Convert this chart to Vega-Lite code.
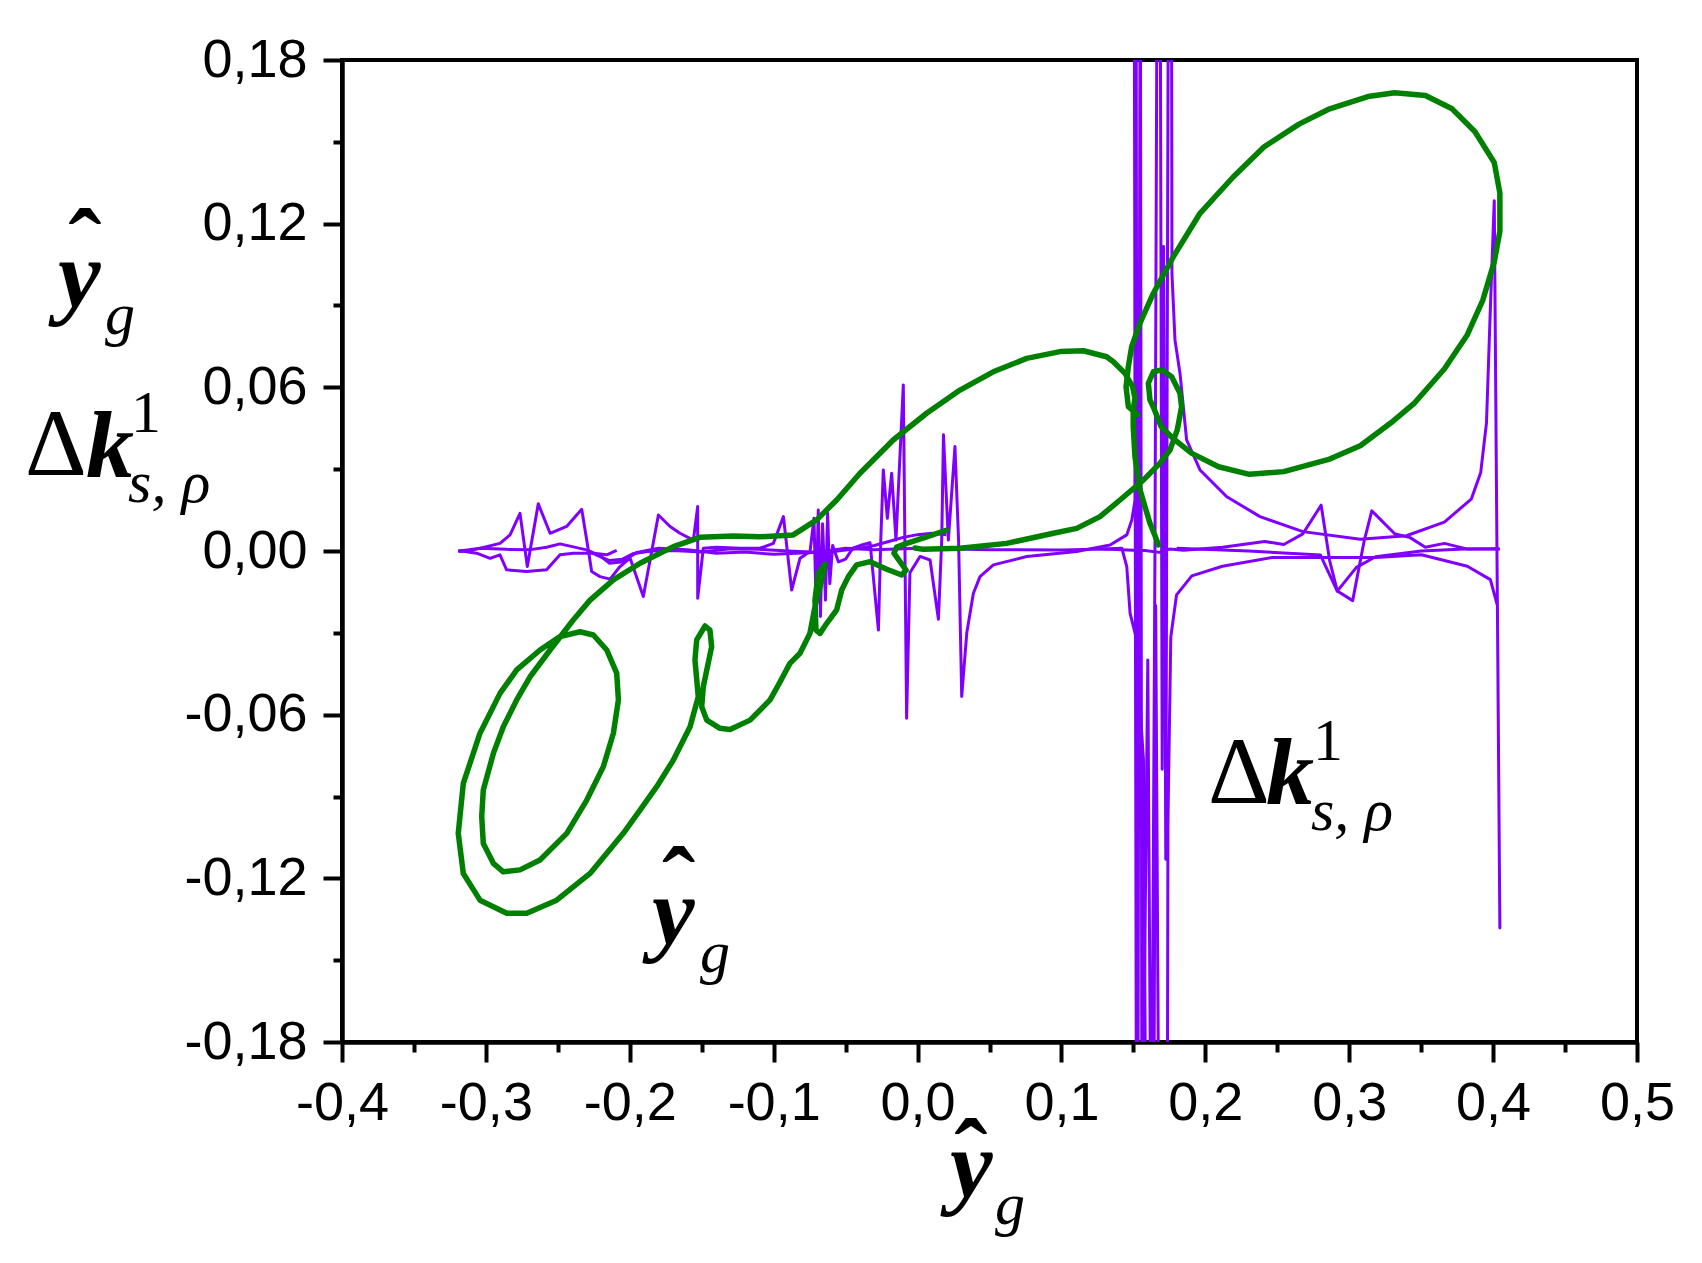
{
"$schema": "https://vega.github.io/schema/vega-lite/v6.json",
"width": 1295, "height": 982,
"autosize": {"type": "none"},
"padding": {"left": 342, "top": 60, "right": 65, "bottom": 221},
"background": "white",
"config": {"view": {"stroke": "black", "strokeWidth": 4}},
"datasets": {
"green": [
{"p":"g1","x":0.0203,"y":0.0077},{"p":"g1","x":0.0064,"y":0.0052},{"p":"g1","x":-0.0076,"y":0.0028},{"p":"g1","x":-0.0145,"y":0.0014},{"p":"g1","x":-0.0164,"y":-0.0008},{"p":"g1","x":-0.0122,"y":-0.0039},{"p":"g1","x":-0.008,"y":-0.007},{"p":"g1","x":-0.011,"y":-0.0088},{"p":"g1","x":-0.0214,"y":-0.0067},{"p":"g1","x":-0.033,"y":-0.0039},{"p":"g1","x":-0.0423,"y":-0.0051},{"p":"g1","x":-0.0481,"y":-0.0094},{"p":"g1","x":-0.0527,"y":-0.0143},{"p":"g1","x":-0.0562,"y":-0.0216},{"p":"g1","x":-0.0631,"y":-0.0265},{"p":"g1","x":-0.0678,"y":-0.0302},{"p":"g1","x":-0.0706,"y":-0.029},{"p":"g1","x":-0.0713,"y":-0.018},{"p":"g1","x":-0.069,"y":-0.0082},{"p":"g1","x":-0.0643,"y":-0.0048},{"p":"g1","x":-0.0666,"y":-0.0106},{"p":"g1","x":-0.0713,"y":-0.0204},{"p":"g1","x":-0.0748,"y":-0.0302},{"p":"g1","x":-0.0817,"y":-0.0375},{"p":"g1","x":-0.0887,"y":-0.0412},{"p":"g1","x":-0.0956,"y":-0.048},{"p":"g1","x":-0.1025,"y":-0.0546},{"p":"g1","x":-0.1164,"y":-0.062},{"p":"g1","x":-0.1303,"y":-0.0654},{"p":"g1","x":-0.1373,"y":-0.065},{"p":"g1","x":-0.1465,"y":-0.062},{"p":"g1","x":-0.15,"y":-0.0571},{"p":"g1","x":-0.1489,"y":-0.0497},{"p":"g1","x":-0.1431,"y":-0.0351},{"p":"g1","x":-0.1443,"y":-0.029},{"p":"g1","x":-0.1477,"y":-0.0275},{"p":"g1","x":-0.1535,"y":-0.0326},{"p":"g1","x":-0.1547,"y":-0.04},{"p":"g1","x":-0.1524,"y":-0.0534},{"p":"g1","x":-0.1581,"y":-0.0644},{"p":"g1","x":-0.1697,"y":-0.0766},{"p":"g1","x":-0.1813,"y":-0.0864},{"p":"g1","x":-0.1929,"y":-0.095},{"p":"g1","x":-0.2045,"y":-0.1035},{"p":"g1","x":-0.2276,"y":-0.1182},{"p":"g1","x":-0.2508,"y":-0.128},{"p":"g1","x":-0.2716,"y":-0.1328},{"p":"g1","x":-0.2855,"y":-0.1328},{"p":"g1","x":-0.3041,"y":-0.128},{"p":"g1","x":-0.3157,"y":-0.1182},{"p":"g1","x":-0.3192,"y":-0.1035},{"p":"g1","x":-0.3157,"y":-0.0852},{"p":"g1","x":-0.3041,"y":-0.0668},{"p":"g1","x":-0.2902,"y":-0.0522},{"p":"g1","x":-0.2786,"y":-0.0436},{"p":"g1","x":-0.2624,"y":-0.0363},{"p":"g1","x":-0.2485,"y":-0.0314},{"p":"g1","x":-0.2346,"y":-0.0296},{"p":"g1","x":-0.2253,"y":-0.0308},{"p":"g1","x":-0.216,"y":-0.0363},{"p":"g1","x":-0.2091,"y":-0.0448},{"p":"g1","x":-0.2079,"y":-0.0546},{"p":"g1","x":-0.2114,"y":-0.0668},{"p":"g1","x":-0.2184,"y":-0.0791},{"p":"g1","x":-0.2299,"y":-0.0913},{"p":"g1","x":-0.2438,"y":-0.1035},{"p":"g1","x":-0.2624,"y":-0.1133},{"p":"g1","x":-0.2763,"y":-0.1169},{"p":"g1","x":-0.2879,"y":-0.1176},{"p":"g1","x":-0.2948,"y":-0.1145},{"p":"g1","x":-0.3018,"y":-0.1072},{"p":"g1","x":-0.3029,"y":-0.0974},{"p":"g1","x":-0.3018,"y":-0.0876},{"p":"g1","x":-0.2948,"y":-0.0742},{"p":"g1","x":-0.2879,"y":-0.0644},{"p":"g1","x":-0.2786,"y":-0.0546},{"p":"g1","x":-0.2693,"y":-0.0461},{"p":"g1","x":-0.2554,"y":-0.0363},{"p":"g1","x":-0.2393,"y":-0.0253},{"p":"g1","x":-0.2276,"y":-0.018},{"p":"g1","x":-0.2114,"y":-0.0106},{"p":"g1","x":-0.1929,"y":-0.0045},{"p":"g1","x":-0.1697,"y":0.0016},{"p":"g1","x":-0.1512,"y":0.005},{"p":"g1","x":-0.128,"y":0.0055},{"p":"g1","x":-0.1095,"y":0.0052},{"p":"g1","x":-0.0864,"y":0.0059},{"p":"g1","x":-0.0701,"y":0.0114},{"p":"g1","x":-0.0562,"y":0.0187},{"p":"g1","x":-0.04,"y":0.0285},{"p":"g1","x":-0.0169,"y":0.0407},{"p":"g1","x":0.0063,"y":0.0505},{"p":"g1","x":0.0295,"y":0.059},{"p":"g1","x":0.0526,"y":0.0657},{"p":"g1","x":0.0758,"y":0.0706},{"p":"g1","x":0.099,"y":0.0731},{"p":"g1","x":0.1152,"y":0.0734},{"p":"g1","x":0.1314,"y":0.0712},{"p":"g1","x":0.1361,"y":0.0694},{"p":"g1","x":0.1442,"y":0.0651},{"p":"g1","x":0.1495,"y":0.0602},{"p":"g1","x":0.1511,"y":0.056},{"p":"g1","x":0.1499,"y":0.0517},{"p":"g1","x":0.1499,"y":0.0456},{"p":"g1","x":0.1511,"y":0.0346},{"p":"g1","x":0.1546,"y":0.0224},{"p":"g1","x":0.1615,"y":0.0102},{"p":"g1","x":0.1662,"y":0.004},{"p":"g1","x":0.1673,"y":0.0022},
{"p":"g2","x":0.153,"y":0.05},{"p":"g2","x":0.1465,"y":0.0529},{"p":"g2","x":0.1449,"y":0.0602},{"p":"g2","x":0.1465,"y":0.0676},{"p":"g2","x":0.1488,"y":0.0749},{"p":"g2","x":0.1546,"y":0.0835},{"p":"g2","x":0.1639,"y":0.0945},{"p":"g2","x":0.1778,"y":0.1079},{"p":"g2","x":0.1963,"y":0.1238},{"p":"g2","x":0.2195,"y":0.1372},{"p":"g2","x":0.2409,"y":0.1482},{"p":"g2","x":0.2651,"y":0.1565},{"p":"g2","x":0.2864,"y":0.1621},{"p":"g2","x":0.313,"y":0.1666},{"p":"g2","x":0.3316,"y":0.168},{"p":"g2","x":0.3529,"y":0.167},{"p":"g2","x":0.3715,"y":0.1621},{"p":"g2","x":0.3874,"y":0.1537},{"p":"g2","x":0.4008,"y":0.1424},{"p":"g2","x":0.4047,"y":0.1312},{"p":"g2","x":0.4047,"y":0.1172},{"p":"g2","x":0.4008,"y":0.106},{"p":"g2","x":0.3928,"y":0.0919},{"p":"g2","x":0.3821,"y":0.0793},{"p":"g2","x":0.3661,"y":0.0667},{"p":"g2","x":0.3449,"y":0.054},{"p":"g2","x":0.329,"y":0.047},{"p":"g2","x":0.3077,"y":0.0386},{"p":"g2","x":0.2864,"y":0.0337},{"p":"g2","x":0.2545,"y":0.0291},{"p":"g2","x":0.2306,"y":0.0281},{"p":"g2","x":0.2092,"y":0.0309},{"p":"g2","x":0.1906,"y":0.0358},{"p":"g2","x":0.1773,"y":0.0414},{"p":"g2","x":0.1693,"y":0.0456},{"p":"g2","x":0.164,"y":0.0526},{"p":"g2","x":0.1615,"y":0.0554},{"p":"g2","x":0.1604,"y":0.0615},{"p":"g2","x":0.1639,"y":0.0657},{"p":"g2","x":0.1697,"y":0.0664},{"p":"g2","x":0.1766,"y":0.0639},{"p":"g2","x":0.1824,"y":0.0578},{"p":"g2","x":0.1835,"y":0.0529},{"p":"g2","x":0.1805,"y":0.0444},{"p":"g2","x":0.1754,"y":0.037},{"p":"g2","x":0.1685,"y":0.0322},{"p":"g2","x":0.1569,"y":0.026},{"p":"g2","x":0.1407,"y":0.0187},{"p":"g2","x":0.1268,"y":0.0126},{"p":"g2","x":0.1106,"y":0.0083},{"p":"g2","x":0.0944,"y":0.0065},{"p":"g2","x":0.0619,"y":0.0028},{"p":"g2","x":0.0295,"y":0.001},{"p":"g2","x":0.004,"y":0.0006},{"p":"g2","x":-0.0018,"y":0.0011}
],
"purple": [
{"p":"a","x":-0.3192,"y":-0.0002},{"p":"a","x":-0.3087,"y":0.0004},{"p":"a","x":-0.2995,"y":0.0016},{"p":"a","x":-0.2902,"y":0.0028},{"p":"a","x":-0.2832,"y":0.0059},{"p":"a","x":-0.2763,"y":0.0138},{"p":"a","x":-0.2712,"y":-0.0057},{"p":"a","x":-0.2636,"y":0.0173},{"p":"a","x":-0.2554,"y":0.0065},{"p":"a","x":-0.2439,"y":0.009},{"p":"a","x":-0.2334,"y":0.0153},{"p":"a","x":-0.2288,"y":0.0004},{"p":"a","x":-0.2265,"y":-0.0075},{"p":"a","x":-0.2207,"y":-0.0094},{"p":"a","x":-0.2137,"y":-0.0103},{"p":"a","x":-0.2068,"y":-0.0057},{"p":"a","x":-0.1998,"y":-0.0026},{"p":"a","x":-0.1906,"y":-0.0167},{"p":"a","x":-0.1801,"y":0.0132},{"p":"a","x":-0.172,"y":0.009},{"p":"a","x":-0.1651,"y":0.0065},{"p":"a","x":-0.1558,"y":0.004},{"p":"a","x":-0.1528,"y":0.0163},{"p":"a","x":-0.1528,"y":-0.0173},{"p":"a","x":-0.1489,"y":0.001},{"p":"a","x":-0.1396,"y":0.0014},{"p":"a","x":-0.1234,"y":0.001},{"p":"a","x":-0.1095,"y":0.001},{"p":"a","x":-0.1002,"y":0.0028},{"p":"a","x":-0.0932,"y":0.0126},{"p":"a","x":-0.0875,"y":-0.0143},{"p":"a","x":-0.0817,"y":-0.0027},{"p":"a","x":-0.0747,"y":-0.0002},{"p":"a","x":-0.072,"y":0.012},{"p":"a","x":-0.0705,"y":-0.02},{"p":"a","x":-0.069,"y":0.015},{"p":"a","x":-0.0675,"y":-0.024},{"p":"a","x":-0.066,"y":0.01},{"p":"a","x":-0.064,"y":-0.018},{"p":"a","x":-0.0625,"y":0.014},{"p":"a","x":-0.061,"y":-0.012},{"p":"a","x":-0.059,"y":0.002},{"p":"a","x":-0.055,"y":-0.004},{"p":"a","x":-0.05,"y":-0.003},{"p":"a","x":-0.045,"y":0.001},{"p":"a","x":-0.04,"y":0.002},{"p":"a","x":-0.033,"y":0.003},{"p":"a","x":-0.0272,"y":-0.029},{"p":"a","x":-0.0255,"y":0.005},{"p":"a","x":-0.0238,"y":0.0297},{"p":"a","x":-0.021,"y":0.012},{"p":"a","x":-0.018,"y":0.0285},{"p":"a","x":-0.015,"y":0.004},{"p":"a","x":-0.0099,"y":0.0609},{"p":"a","x":-0.0076,"y":-0.0613},{"p":"a","x":-0.0053,"y":-0.008},{"p":"a","x":0.0017,"y":-0.002},{"p":"a","x":0.0087,"y":-0.0033},{"p":"a","x":0.0145,"y":-0.025},{"p":"a","x":0.0168,"y":0.004},{"p":"a","x":0.018,"y":0.0426},{"p":"a","x":0.0214,"y":0.004},{"p":"a","x":0.026,"y":0.0383},{"p":"a","x":0.0285,"y":0.004},{"p":"a","x":0.0307,"y":-0.0533},{"p":"a","x":0.0342,"y":-0.0301},{"p":"a","x":0.0388,"y":-0.0155},{"p":"a","x":0.0434,"y":-0.0094},{"p":"a","x":0.0527,"y":-0.0051},{"p":"a","x":0.0759,"y":-0.002},{"p":"a","x":0.1106,"y":-0.0002},{"p":"a","x":0.1338,"y":0.0022},{"p":"a","x":0.1454,"y":0.0059},{"p":"a","x":0.1489,"y":0.0114},{"p":"a","x":0.1512,"y":0.0187},{"p":"a","x":0.1518,"y":0.25},{"p":"a","x":0.153,"y":-0.25},{"p":"a","x":0.1548,"y":0.25},{"p":"a","x":0.156,"y":-0.25},{"p":"a","x":0.16,"y":-0.04},{"p":"a","x":0.1625,"y":-0.25},{"p":"a","x":0.165,"y":0.0},{"p":"a","x":0.1667,"y":0.25},{"p":"a","x":0.1685,"y":0.25},{"p":"a","x":0.17,"y":-0.08},{"p":"a","x":0.171,"y":0.1116},{"p":"a","x":0.1725,"y":-0.113},{"p":"a","x":0.1745,"y":0.25},{"p":"a","x":0.1766,"y":0.18},{"p":"a","x":0.1768,"y":0.1018},{"p":"a","x":0.1789,"y":0.0774},{"p":"a","x":0.1824,"y":0.0651},{"p":"a","x":0.187,"y":0.0407},{"p":"a","x":0.1963,"y":0.0297},{"p":"a","x":0.2149,"y":0.0199},{"p":"a","x":0.238,"y":0.0126},{"p":"a","x":0.2678,"y":0.0071},{"p":"a","x":0.3077,"y":0.0043},{"p":"a","x":0.3397,"y":0.0056},{"p":"a","x":0.3661,"y":0.0106},{"p":"a","x":0.3848,"y":0.019},{"p":"a","x":0.3914,"y":0.0288},{"p":"a","x":0.3954,"y":0.047},{"p":"a","x":0.3981,"y":0.0891},{"p":"a","x":0.4008,"y":0.1284},{"p":"a","x":0.4047,"y":-0.1382},{"p":"a","x":0.403,"y":-0.02},{"p":"a","x":0.3981,"y":-0.0105},{"p":"a","x":0.3821,"y":-0.0056},{"p":"a","x":0.3502,"y":-0.0014},{"p":"a","x":0.3183,"y":-0.0024},{"p":"a","x":0.2465,"y":-0.0024},{"p":"a","x":0.2119,"y":-0.0056},{"p":"a","x":0.1906,"y":-0.0091},{"p":"a","x":0.18,"y":-0.0161},{"p":"a","x":0.176,"y":-0.0315},{"p":"a","x":0.174,"y":-0.1},{"p":"a","x":0.1735,"y":-0.25},
{"p":"d","x":0.13,"y":0.0007},{"p":"d","x":0.142,"y":0.001},{"p":"d","x":0.1454,"y":-0.0057},{"p":"d","x":0.1477,"y":-0.0228},{"p":"d","x":0.1523,"y":-0.0326},{"p":"d","x":0.1546,"y":-0.057},{"p":"d","x":0.157,"y":-0.0766},{"p":"d","x":0.159,"y":-0.25},
{"p":"h","x":0.1505,"y":0.25},{"p":"h","x":0.1512,"y":0.04},{"p":"h","x":0.1522,"y":-0.25},
{"p":"k","x":0.164,"y":-0.25},{"p":"k","x":0.1655,"y":-0.02},{"p":"k","x":0.168,"y":-0.25},
{"p":"b","x":-0.3192,"y":0.0002},{"p":"b","x":-0.3064,"y":-0.0008},{"p":"b","x":-0.2971,"y":-0.0027},{"p":"b","x":-0.2902,"y":-0.0014},{"p":"b","x":-0.2856,"y":-0.0069},{"p":"b","x":-0.2717,"y":-0.0075},{"p":"b","x":-0.2578,"y":-0.0069},{"p":"b","x":-0.2485,"y":-0.0014},{"p":"b","x":-0.2392,"y":-0.0008},{"p":"b","x":-0.2253,"y":-0.0008},{"p":"b","x":-0.216,"y":-0.0014},{"p":"b","x":-0.2091,"y":0.0002},
{"p":"c","x":-0.318,"y":0.0},{"p":"c","x":-0.304,"y":0.001},{"p":"c","x":-0.2855,"y":0.0006},{"p":"c","x":-0.269,"y":0.0005},{"p":"c","x":-0.2578,"y":0.0014},{"p":"c","x":-0.2485,"y":0.0026},{"p":"c","x":-0.23,"y":0.0004},{"p":"c","x":-0.223,"y":-0.0015},{"p":"c","x":-0.214,"y":-0.0035},{"p":"c","x":-0.205,"y":-0.003},{"p":"c","x":-0.198,"y":-0.001},{"p":"c","x":-0.185,"y":0.0},{"p":"c","x":-0.17,"y":0.0002},{"p":"c","x":-0.15,"y":-0.0004},{"p":"c","x":-0.13,"y":0.0008},{"p":"c","x":-0.11,"y":0.0006},{"p":"c","x":-0.09,"y":0.0},{"p":"c","x":-0.07,"y":-0.0005},{"p":"c","x":-0.05,"y":0.001},{"p":"c","x":-0.03,"y":0.0005},{"p":"c","x":0.0,"y":0.001},{"p":"c","x":0.05,"y":0.0005},{"p":"c","x":0.1,"y":0.0004},{"p":"c","x":0.13,"y":0.0007},{"p":"c","x":0.15,"y":0.0003},{"p":"c","x":0.158,"y":0.0002},{"p":"c","x":0.168,"y":-0.0005},{"p":"c","x":0.175,"y":0.0007},{"p":"c","x":0.185,"y":0.0003},{"p":"c","x":0.212,"y":0.0014},{"p":"c","x":0.2412,"y":0.0035},{"p":"c","x":0.2545,"y":0.0024},{"p":"c","x":0.2678,"y":0.0063},{"p":"c","x":0.2805,"y":0.0168},{"p":"c","x":0.2864,"y":-0.0035},{"p":"c","x":0.2917,"y":-0.0147},{"p":"c","x":0.3024,"y":-0.0182},{"p":"c","x":0.3103,"y":0.0035},{"p":"c","x":0.3157,"y":0.0147},{"p":"c","x":0.3316,"y":0.0063},{"p":"c","x":0.3423,"y":0.0049},{"p":"c","x":0.3529,"y":0.0014},{"p":"c","x":0.3662,"y":0.0028},{"p":"c","x":0.3822,"y":0.0007},{"p":"c","x":0.4048,"y":0.0007},
{"p":"e","x":0.18,"y":0.001},{"p":"e","x":0.23,"y":0.0},{"p":"e","x":0.28,"y":-0.0015},{"p":"e","x":0.2917,"y":-0.0147},{"p":"e","x":0.305,"y":-0.006},{"p":"e","x":0.3183,"y":-0.0021},{"p":"e","x":0.35,"y":0.0},{"p":"e","x":0.38,"y":0.0007},{"p":"e","x":0.404,"y":0.0008},
{"p":"f","x":-0.23,"y":0.0004},{"p":"f","x":-0.22,"y":-0.002},{"p":"f","x":-0.214,"y":-0.0045},{"p":"f","x":-0.206,"y":-0.004},{"p":"f","x":-0.195,"y":-0.0005},{"p":"f","x":-0.18,"y":0.001},{"p":"f","x":-0.16,"y":0.0005},{"p":"f","x":-0.14,"y":-0.0008},{"p":"f","x":-0.12,"y":-0.0004},{"p":"f","x":-0.1,"y":-0.0012},{"p":"f","x":-0.08,"y":-0.0007},{"p":"f","x":-0.06,"y":-0.0003},{"p":"f","x":-0.04,"y":0.001},{"p":"f","x":-0.03,"y":0.002},{"p":"f","x":-0.02,"y":0.0035},{"p":"f","x":-0.01,"y":0.005},{"p":"f","x":0.0,"y":0.006},{"p":"f","x":0.01,"y":0.0065},{"p":"f","x":0.02,"y":0.006}
],
"labels": [
{"x":-0.5786,"y":0.1001,"t":"ˆ","role":"hat"},
{"x":-0.5974,"y":0.0896,"t":"y","role":"bi"},
{"x":-0.5647,"y":0.0796,"t":"g","role":"sub"},
{"x":-0.6203,"y":0.0279,"t":"Δ","role":"main"},
{"x":-0.5779,"y":0.0271,"t":"k","role":"bi"},
{"x":-0.5466,"y":0.0436,"t":"1","role":"sup"},
{"x":-0.5487,"y":0.018,"t":"s, ρ","role":"sub"},
{"x":0.2019,"y":-0.0922,"t":"Δ","role":"main"},
{"x":0.2422,"y":-0.0928,"t":"k","role":"bi"},
{"x":0.2748,"y":-0.0765,"t":"1","role":"sup"},
{"x":0.2734,"y":-0.1021,"t":"s, ρ","role":"sub"},
{"x":-0.1661,"y":-0.1338,"t":"ˆ","role":"hat"},
{"x":-0.1846,"y":-0.1441,"t":"y","role":"bi"},
{"x":-0.1512,"y":-0.1543,"t":"g","role":"sub"},
{"x":0.0371,"y":-0.2335,"t":"ˆ","role":"hat"},
{"x":0.0226,"y":-0.2368,"t":"y","role":"bi"},
{"x":0.0538,"y":-0.2467,"t":"g","role":"sub"}
]
},
"layer": [
{"data": {"name": "purple"},
 "mark": {"type": "line", "color": "#8000ff", "strokeWidth": 3, "clip": true, "strokeJoin": "round"},
 "encoding": {
  "x": {"field": "x", "type": "quantitative", "scale": {"domain": [-0.4, 0.5], "nice": false, "zero": false}, "axis": null},
  "y": {"field": "y", "type": "quantitative", "scale": {"domain": [-0.18, 0.18], "nice": false, "zero": false}, "axis": null},
  "detail": {"field": "p"},
  "order": {"value": null}}},
{"data": {"name": "green"},
 "mark": {"type": "line", "color": "#008000", "strokeWidth": 5.5, "clip": true, "strokeJoin": "round", "strokeCap": "round"},
 "encoding": {
  "x": {"field": "x", "type": "quantitative", "scale": {"domain": [-0.4, 0.5], "nice": false, "zero": false},
   "axis": {"orient": "bottom", "values": [-0.4,-0.3,-0.2,-0.1,0,0.1,0.2,0.3,0.4,0.5], "title": null, "grid": false, "domainColor": "black", "domainWidth": 4.5, "tickColor": "black", "tickWidth": 4, "tickSize": 20, "labelFont": "Liberation Sans", "labelFontSize": 54, "labelColor": "black", "labelPadding": 14, "labelFlush": false, "labelOverlap": false, "labelExpr": "(datum.value < -0.0001 ? '-' : '') + replace(format(abs(datum.value), '.1f'), '.', ',')"}},
  "y": {"field": "y", "type": "quantitative", "scale": {"domain": [-0.18, 0.18], "nice": false, "zero": false},
   "axis": {"orient": "left", "values": [-0.18,-0.12,-0.06,0,0.06,0.12,0.18], "title": null, "grid": false, "domainColor": "black", "domainWidth": 4.5, "tickColor": "black", "tickWidth": 4, "tickSize": 19, "labelFont": "Liberation Sans", "labelFontSize": 54, "labelColor": "black", "labelPadding": 16, "labelFlush": false, "labelOverlap": false, "labelExpr": "(datum.value < -0.0001 ? '-' : '') + replace(format(abs(datum.value), '.2f'), '.', ',')"}},
  "detail": {"field": "p"},
  "order": {"value": null}}},
{"data": {"name": "green"},
 "mark": {"type": "point", "opacity": 0},
 "encoding": {
  "x": {"field": "x", "type": "quantitative", "axis": {"orient": "bottom", "values": [-0.35,-0.25,-0.15,-0.05,0.05,0.15,0.25,0.35,0.45], "title": null, "grid": false, "domain": false, "labels": false, "tickColor": "black", "tickWidth": 4, "tickSize": 10}},
  "y": {"field": "y", "type": "quantitative", "axis": {"orient": "left", "values": [-0.15,-0.09,-0.03,0.03,0.09,0.15], "title": null, "grid": false, "domain": false, "labels": false, "tickColor": "black", "tickWidth": 4, "tickSize": 9}}}},
{"data": {"name": "labels"}, "transform": [{"filter": "datum.role === 'main'"}],
 "mark": {"type": "text", "font": "Liberation Serif", "fontSize": 96, "align": "left", "baseline": "alphabetic", "color": "black"},
 "encoding": {"x": {"field": "x", "type": "quantitative", "axis": null}, "y": {"field": "y", "type": "quantitative", "axis": null}, "text": {"field": "t"}}},
{"data": {"name": "labels"}, "transform": [{"filter": "datum.role === 'bi'"}],
 "mark": {"type": "text", "font": "Liberation Serif", "fontSize": 96, "fontStyle": "italic", "fontWeight": "bold", "align": "left", "baseline": "alphabetic", "color": "black"},
 "encoding": {"x": {"field": "x", "type": "quantitative", "axis": null}, "y": {"field": "y", "type": "quantitative", "axis": null}, "text": {"field": "t"}}},
{"data": {"name": "labels"}, "transform": [{"filter": "datum.role === 'sub'"}],
 "mark": {"type": "text", "font": "Liberation Serif", "fontSize": 60, "fontStyle": "italic", "align": "left", "baseline": "alphabetic", "color": "black"},
 "encoding": {"x": {"field": "x", "type": "quantitative", "axis": null}, "y": {"field": "y", "type": "quantitative", "axis": null}, "text": {"field": "t"}}},
{"data": {"name": "labels"}, "transform": [{"filter": "datum.role === 'sup'"}],
 "mark": {"type": "text", "font": "Liberation Serif", "fontSize": 60, "align": "left", "baseline": "alphabetic", "color": "black"},
 "encoding": {"x": {"field": "x", "type": "quantitative", "axis": null}, "y": {"field": "y", "type": "quantitative", "axis": null}, "text": {"field": "t"}}},
{"data": {"name": "labels"}, "transform": [{"filter": "datum.role === 'hat'"}],
 "mark": {"type": "text", "font": "Liberation Serif", "fontSize": 100, "fontWeight": "bold", "align": "center", "baseline": "alphabetic", "color": "black"},
 "encoding": {"x": {"field": "x", "type": "quantitative", "axis": null}, "y": {"field": "y", "type": "quantitative", "axis": null}, "text": {"field": "t"}}}
],
"resolve": {"axis": {"x": "independent", "y": "independent"}}
}
